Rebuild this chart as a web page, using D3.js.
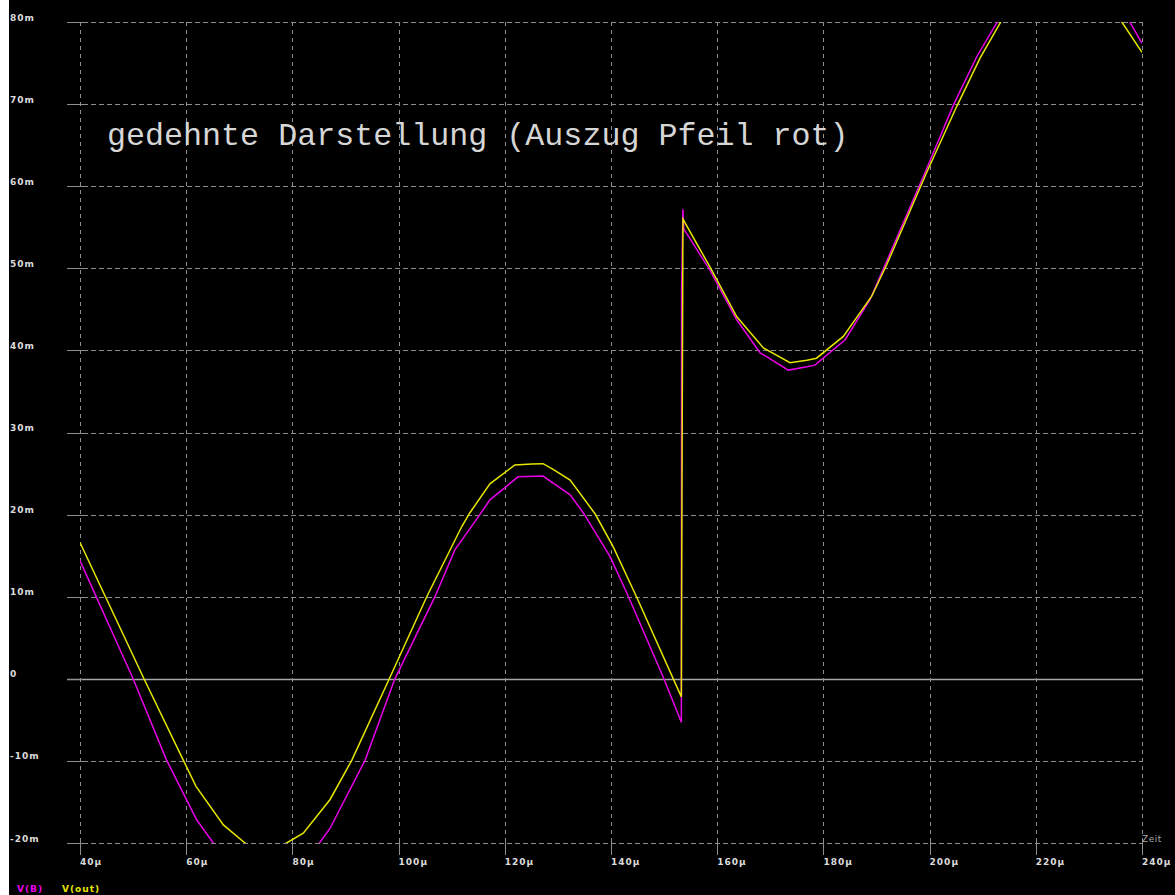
<!DOCTYPE html>
<html>
<head>
<meta charset="utf-8">
<script src="https://cdn.jsdelivr.net/npm/d3@7"></script>
<style>
  html, body { margin: 0; padding: 0; background: #000; overflow: hidden; }
  svg { display: block; }
</style>
</head>
<body>
<svg id="chart" width="1175" height="895"></svg>
<script>
// ---- data ----
const xTicks = [40, 60, 80, 100, 120, 140, 160, 180, 200, 220, 240];
const xTickLabels = ["40µ", "60µ", "80µ", "100µ", "120µ", "140µ", "160µ", "180µ", "200µ", "220µ", "240µ"];
const yTicks = [80, 70, 60, 50, 40, 30, 20, 10, 0, -10, -20];
const yTickLabels = ["80m", "70m", "60m", "50m", "40m", "30m", "20m", "10m", "0", "-10m", "-20m"];

const seriesNames = ["V(B)", "V(out)"];

// V(B) (magenta): time in µs, value in mV
const timeB = [40, 50.0, 56.3, 62.0, 65.1, 70, 75, 80, 85.1, 87.1, 93.7, 99.3, 106.85, 110.6, 115.3, 117.2, 122.5, 127.2, 132.3, 134.8, 139.8, 143.3, 149.9, 153.25, 153.3, 153.55, 153.7, 158.6, 163.7, 168.1, 173.4, 176.9, 178.4, 184.1, 188.8, 199.1, 204.5, 208.9, 212.75, 218, 225, 232, 237.7, 240];
const valueB = [14.4, 0, -9.9, -17.2, -20.0, -23.2, -24.5, -23.2, -20.0, -18.2, -9.9, 0, 10.0, 15.7, 20.0, 21.8, 24.6, 24.7, 22.4, 20.2, 14.9, 10.0, 0.1, -5.3, 47.5, 57.2, 54.8, 49.8, 43.7, 39.7, 37.6, 38.0, 38.2, 41.3, 46.2, 61.6, 69.9, 75.8, 80.0, 86.5, 89, 86, 80.0, 77.4];

// V(out) (yellow): time in µs, value in mV
const timeOut = [40, 52.05, 59.45, 61.85, 67.0, 71.07, 75.0, 78.9, 82.05, 87.1, 91.2, 98.25, 105.3, 111.9, 113.4, 117.2, 121.9, 125.1, 127.2, 129.1, 132.3, 137.0, 140.4, 144.8, 153.25, 153.3, 153.55, 158.6, 163.7, 168.7, 173.7, 176.9, 178.7, 183.75, 189.1, 191.9, 199.4, 205.1, 209.5, 213.3, 218, 225, 231, 236.2, 240];
const valueOut = [16.6, 0, -9.9, -13.1, -17.8, -20.0, -21.2, -20.0, -18.8, -14.7, -9.9, 0, 10.0, 18.55, 20.2, 23.75, 26.05, 26.15, 26.2, 25.5, 24.2, 20.1, 16.1, 10.0, -2.2, 10.5, 56.0, 50.2, 44.1, 40.3, 38.5, 38.8, 39.05, 41.7, 46.6, 50.4, 61.6, 69.7, 75.6, 79.9, 85.5, 88, 85.5, 80.0, 76.3];

const titleText = "gedehnte Darstellung (Auszug Pfeil rot)";
const xAxisName = "Zeit";

// ---- layout ----
const plotLeft = 80, plotRight = 1142, plotTop = 22, plotBottom = 843;
const svg = d3.select("#chart");

svg.append("rect").attr("x", 0).attr("y", 0).attr("width", 1175).attr("height", 895).attr("fill", "#000");
svg.append("rect").attr("x", 0).attr("y", 0).attr("width", 9).attr("height", 895).attr("fill", "#fff");

const x = d3.scaleLinear().domain([40, 240]).range([plotLeft, plotRight]);
const y = d3.scaleLinear().domain([-20, 80]).range([plotBottom, plotTop]);

const gridColor = "#8e8e8e";
const labelColor = "#dcdcdc";
const labelFont = "DejaVu Sans, sans-serif";

// horizontal grid lines
svg.append("g").selectAll("line").data(yTicks).join("line")
  .attr("x1", plotLeft - 13).attr("x2", plotRight)
  .attr("y1", d => Math.round(y(d)) + 0.5).attr("y2", d => Math.round(y(d)) + 0.5)
  .attr("stroke", d => d === 0 ? "#a8a8a8" : gridColor).attr("stroke-width", d => d === 0 ? 1.3 : 1)
  .attr("stroke-dasharray", d => d === 0 ? null : "5,3");

// y tick marks (solid)
svg.append("g").selectAll("line").data(yTicks).join("line")
  .attr("x1", plotLeft - 13).attr("x2", plotLeft + 3)
  .attr("y1", d => Math.round(y(d)) + 0.5).attr("y2", d => Math.round(y(d)) + 0.5)
  .attr("stroke", gridColor).attr("stroke-width", 1);

// vertical grid lines
svg.append("g").selectAll("line").data(xTicks).join("line")
  .attr("x1", d => Math.round(x(d)) + 0.5).attr("x2", d => Math.round(x(d)) + 0.5)
  .attr("y1", plotTop).attr("y2", plotBottom)
  .attr("stroke", gridColor).attr("stroke-width", 1)
  .attr("stroke-dasharray", "4,4");

// x tick marks (solid)
svg.append("g").selectAll("line").data(xTicks).join("line")
  .attr("x1", d => Math.round(x(d)) + 0.5).attr("x2", d => Math.round(x(d)) + 0.5)
  .attr("y1", plotBottom - 3).attr("y2", plotBottom + 12)
  .attr("stroke", gridColor).attr("stroke-width", 1);

// y tick labels
svg.append("g").selectAll("text").data(yTicks).join("text")
  .attr("x", 10).attr("y", d => y(d) - 1.5)
  .attr("fill", labelColor)
  .attr("font-family", labelFont).attr("font-weight", "bold")
  .attr("font-size", 9).attr("letter-spacing", 1)
  .text((d, i) => yTickLabels[i]);

// x tick labels
svg.append("g").selectAll("text").data(xTicks).join("text")
  .attr("x", d => x(d)).attr("y", 865)
  .attr("fill", labelColor)
  .attr("font-family", labelFont).attr("font-weight", "bold")
  .attr("font-size", 9).attr("letter-spacing", 1)
  .text((d, i) => xTickLabels[i]);

// axis name
svg.append("text")
  .attr("x", plotRight).attr("y", 842)
  .attr("fill", "#a8a8a8")
  .attr("font-family", labelFont)
  .attr("font-size", 9).attr("letter-spacing", 0.5)
  .text(xAxisName);

// clip
svg.append("clipPath").attr("id", "plotclip")
  .append("rect").attr("x", plotLeft).attr("y", plotTop)
  .attr("width", plotRight - plotLeft).attr("height", plotBottom - plotTop);

const line = d3.line().x(d => x(d[0])).y(d => y(d[1]));

const dataB = timeB.map((t, i) => [t, valueB[i]]);
const dataOut = timeOut.map((t, i) => [t, valueOut[i]]);

const plot = svg.append("g").attr("clip-path", "url(#plotclip)");
plot.append("path").datum(dataB).attr("d", line)
  .attr("fill", "none").attr("stroke", "#e800e8").attr("stroke-width", 1.5);
plot.append("path").datum(dataOut).attr("d", line)
  .attr("fill", "none").attr("stroke", "#e6e600").attr("stroke-width", 1.5);

// title annotation
svg.append("text")
  .attr("x", 107).attr("y", 145)
  .attr("fill", "#d6d6d6")
  .attr("font-family", "Liberation Mono, monospace")
  .attr("font-size", 31.7)
  .text(titleText);

// legend
const legendColors = ["#e800e8", "#e6e600"];
const legendX = [17, 62];
svg.append("g").selectAll("text").data(seriesNames).join("text")
  .attr("x", (d, i) => legendX[i]).attr("y", 892)
  .attr("fill", (d, i) => legendColors[i])
  .attr("font-family", labelFont).attr("font-weight", "bold")
  .attr("font-size", 9).attr("letter-spacing", 1)
  .text(d => d);
</script>
</body>
</html>
